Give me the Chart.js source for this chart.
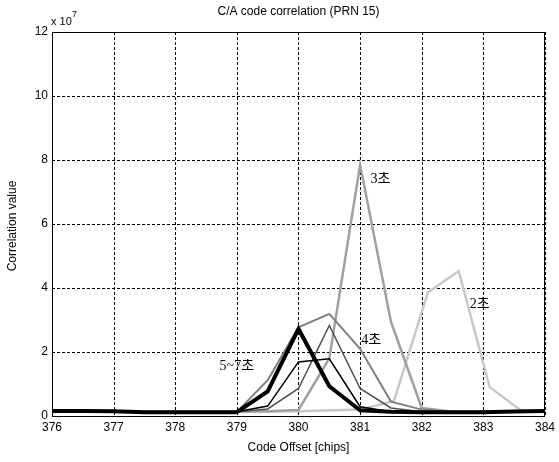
<!DOCTYPE html>
<html>
<head>
<meta charset="utf-8">
<script src="https://cdn.jsdelivr.net/npm/chart.js@4"></script>
<style>
  html, body { margin: 0; padding: 0; background: #fff; }
  #wrap { width: 559px; height: 462px; }
</style>
</head>
<body>
<div id="wrap"><canvas id="corr-chart" width="559" height="462"></canvas></div>
<script>
// --- DATA (values in units of 10^7) ---
const chipOffsets = [376, 376.5, 377, 377.5, 378, 378.5, 379, 379.5, 380, 380.5, 381, 381.5, 382, 382.5, 383, 383.5, 384];
const sec57Thick = [0.16, 0.16, 0.15, 0.12, 0.12, 0.12, 0.12, 0.77, 2.72, 0.93, 0.18, 0.13, 0.12, 0.12, 0.12, 0.14, 0.16];
const sec57Thin  = [0.13, 0.13, 0.13, 0.13, 0.13, 0.13, 0.13, 0.31, 1.69, 1.79, 0.29, 0.13, 0.13, 0.13, 0.13, 0.13, 0.13];
const sec57Gray  = [0.13, 0.13, 0.13, 0.13, 0.13, 0.13, 0.13, 0.22, 0.86, 2.83, 0.86, 0.25, 0.13, 0.13, 0.13, 0.13, 0.13];
const sec4       = [0.13, 0.13, 0.13, 0.13, 0.13, 0.13, 0.13, 1.12, 2.77, 3.19, 2.10, 0.45, 0.20, 0.13, 0.13, 0.13, 0.13];
const sec3       = [0.13, 0.13, 0.13, 0.13, 0.13, 0.13, 0.13, 0.15, 0.19, 1.80, 7.85, 2.95, 0.25, 0.13, 0.13, 0.13, 0.13];
const sec2Offsets = [376, 377, 378, 379, 380, 381, 381.55, 382.1, 382.6, 383.1, 383.6, 384];
const sec2        = [0.13, 0.13, 0.13, 0.13, 0.15, 0.20, 0.47, 3.86, 4.53, 0.91, 0.19, 0.13];
const xTicks = [376, 377, 378, 379, 380, 381, 382, 383, 384];
const yTicks = [0, 2, 4, 6, 8, 10, 12];

const labels = [
    { text: '3초', x: 381.17, y: 7.4 },
    { text: '2초', x: 382.78, y: 3.5 },
    { text: '4초', x: 381.02, y: 2.35 },
    { text: '5~7초', x: 378.72, y: 1.55 }
];

const pts = (xs, ys) => xs.map((x, i) => ({ x, y: ys[i] }));

// --- GRID / BOX / TEXT PLUGIN ---
const decorPlugin = {
    id: 'decor',
    beforeDatasetsDraw(chart) {
        // dotted MATLAB-style grid, placed by the scales' own ticks
        const { ctx, chartArea: a, scales: { x, y } } = chart;
        ctx.save();
        ctx.strokeStyle = '#000';
        ctx.lineWidth = 1;
        ctx.setLineDash([3, 2]);
        x.ticks.forEach(t => {
            const px = Math.round(x.getPixelForValue(t.value)) + 0.5;
            ctx.beginPath(); ctx.moveTo(px, a.top); ctx.lineTo(px, a.bottom); ctx.stroke();
        });
        y.ticks.forEach(t => {
            const py = Math.round(y.getPixelForValue(t.value)) + 0.5;
            ctx.beginPath(); ctx.moveTo(a.left, py); ctx.lineTo(a.right, py); ctx.stroke();
        });
        ctx.restore();
    },
    afterDatasetsDraw(chart) {
        const { ctx, chartArea: a, scales: { x, y } } = chart;
        ctx.save();
        ctx.strokeStyle = '#000';
        ctx.lineWidth = 1;
        ctx.setLineDash([]);
        ctx.strokeRect(Math.round(a.left) + 0.5, Math.round(a.top) + 0.5, Math.round(a.right - a.left) - 1, Math.round(a.bottom - a.top));

        ctx.fillStyle = '#000';
        ctx.font = '14px "Liberation Serif", "Noto Sans CJK KR", serif';
        ctx.textAlign = 'left';
        ctx.textBaseline = 'middle';
        labels.forEach(l => ctx.fillText(l.text, x.getPixelForValue(l.x), y.getPixelForValue(l.y)));
        ctx.restore();
    },
    afterDraw(chart) {
        const { ctx, chartArea: a } = chart;
        ctx.save();
        ctx.fillStyle = '#000';
        ctx.font = '12px "Liberation Sans", Arial, sans-serif';
        ctx.textAlign = 'center';
        ctx.textBaseline = 'middle';
        ctx.fillText('C/A code correlation (PRN 15)', (a.left + a.right) / 2, 12);
        ctx.fillText('Code Offset [chips]', (a.left + a.right) / 2, 448);

        ctx.save();
        ctx.translate(13, 226);
        ctx.rotate(-Math.PI / 2);
        ctx.fillText('Correlation value', 0, 0);
        ctx.restore();

        ctx.textAlign = 'left';
        ctx.font = '11px "Liberation Sans", Arial, sans-serif';
        ctx.fillText('x 10', 51, 22);
        ctx.font = '9px "Liberation Sans", Arial, sans-serif';
        ctx.fillText('7', 72, 15);
        ctx.restore();
    }
};

const line = (data, color, width, order) => ({
    data, borderColor: color, backgroundColor: color, borderWidth: width,
    pointRadius: 0, tension: 0, fill: false, order
});

new Chart(document.getElementById('corr-chart'), {
    type: 'line',
    data: {
        datasets: [
            line(pts(chipOffsets, sec57Thick), '#000000', 4, 1),
            line(pts(chipOffsets, sec57Thin), '#000000', 1.5, 2),
            line(pts(chipOffsets, sec57Gray), '#505050', 1.5, 3),
            line(pts(chipOffsets, sec4), '#7f7f7f', 2, 4),
            line(pts(chipOffsets, sec3), '#a0a0a0', 2.5, 5),
            line(pts(sec2Offsets, sec2), '#c8c8c8', 2.5, 6)
        ]
    },
    options: {
        responsive: false,
        animation: false,
        layout: { padding: { top: 32, right: 10, left: 0, bottom: 0 } },
        plugins: { legend: { display: false }, tooltip: { enabled: false } },
        scales: {
            x: {
                type: 'linear', min: 376, max: 384,
                afterBuildTicks: s => { s.ticks = xTicks.map(v => ({ value: v })); },
                afterFit: s => { s.height = 46; },
                grid: { display: false, drawTicks: false },
                border: { display: false },
                ticks: { color: '#000', padding: 4, font: { size: 12, family: '"Liberation Sans", Arial, sans-serif' } }
            },
            y: {
                min: 0, max: 12,
                afterBuildTicks: s => { s.ticks = yTicks.map(v => ({ value: v })); },
                afterFit: s => { s.width = 52; },
                grid: { display: false, drawTicks: false },
                border: { display: false },
                ticks: { color: '#000', padding: 4, font: { size: 12, family: '"Liberation Sans", Arial, sans-serif' } }
            }
        }
    },
    plugins: [decorPlugin]
});
</script>
</body>
</html>
